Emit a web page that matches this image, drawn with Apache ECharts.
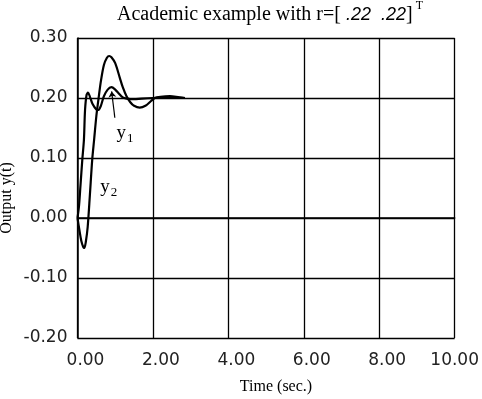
<!DOCTYPE html>
<html><head><meta charset="utf-8">
<script src="https://cdn.jsdelivr.net/npm/echarts@6/dist/echarts.min.js"></script>
<style>html,body{margin:0;padding:0;background:#fff}#c{width:482px;height:399px}</style>
</head><body><div id="c"></div>
<script>
// Data
const y1Time = [0, 0.04, 0.08, 0.127, 0.17, 0.2, 0.24, 0.28, 0.33, 0.4, 0.5, 0.55, 0.62, 0.7, 0.8, 0.9, 1.0, 1.1, 1.2, 1.3, 1.5, 1.7, 2.0, 2.5, 2.85];
const y1Vals = [0, 0.02, 0.055, 0.097, 0.13, 0.18, 0.205, 0.209, 0.202, 0.19, 0.181, 0.18, 0.187, 0.203, 0.214, 0.218, 0.214, 0.207, 0.201, 0.199, 0.198, 0.199, 0.2, 0.201, 0.2];
const y2Time = [0, 0.05, 0.1, 0.15, 0.18, 0.22, 0.27, 0.33, 0.39, 0.44, 0.5, 0.56, 0.62, 0.7, 0.78, 0.84, 0.9, 1.0, 1.12, 1.2, 1.3, 1.4, 1.5, 1.65, 1.8, 1.95, 2.05, 2.2, 2.45, 2.7, 2.85];
const y2Vals = [0, -0.02, -0.038, -0.048, -0.05, -0.04, -0.015, 0.04, 0.097, 0.13, 0.17, 0.2, 0.228, 0.255, 0.267, 0.27, 0.268, 0.258, 0.234, 0.218, 0.203, 0.193, 0.187, 0.184, 0.187, 0.195, 0.2, 0.202, 0.203, 0.201, 0.2];
const xTicks = [0, 2, 4, 6, 8, 10];
const yTicks = [-0.2, -0.1, 0, 0.1, 0.2, 0.3];
const y1LabelPos = [1.26, 0.142];
const y2LabelPos = [0.83, 0.052];
const y1Arrow = [[0.99, 0.167], [0.905, 0.211]];

const chart = echarts.init(document.getElementById('c'));
const zip = (t, v) => t.map((x, i) => [x, v[i]]);
const sub = (n) => ({
  formatter: '{a|y}{b|' + n + '}',
  rich: {
    a: {fontFamily: 'Liberation Serif', fontSize: 19, color: '#000'},
    b: {fontFamily: 'Liberation Serif', fontSize: 13, color: '#000', padding: [12, 0, 0, 1]}
  }
});
const tickFont = {fontFamily: 'DejaVu Sans', fontSize: 17, color: '#222'};
chart.setOption({
  animation: false,
  title: {
    text: '{s|Academic example with r=[ }{i|.22  .22}{s|]}{t|T}',
    left: 270, top: 0, padding: 0, textAlign: 'center',
    textStyle: {
      rich: {
        s: {fontFamily: 'Liberation Serif', fontWeight: 'normal', fontSize: 20, color: '#000'},
        i: {fontFamily: 'Liberation Sans', fontWeight: 'normal', fontStyle: 'italic', fontSize: 18, color: '#000'},
        t: {fontFamily: 'Liberation Serif', fontWeight: 'normal', fontSize: 12, color: '#000', padding: [0, 0, 18, 3]}
      }
    }
  },
  grid: {left: 77.5, right: 27, top: 38, bottom: 61},
  xAxis: {
    type: 'value', min: 0, max: 10, interval: 2,
    axisLine: {show: true, lineStyle: {color: '#000', width: 1.5}},
    axisTick: {show: false},
    splitLine: {show: true, lineStyle: {color: '#000', width: 1.3}},
    axisLabel: {margin: 14,
      formatter: v => xTicks.includes(v) ? (v === 10 ? '{m|' : '{n|') + v.toFixed(2) + '}' : '',
      rich: {n: Object.assign({padding: [0, 0, 0, 16]}, tickFont), m: Object.assign({padding: [0, 0, 0, 0]}, tickFont)}}
  },
  yAxis: {
    type: 'value', min: -0.2, max: 0.3, interval: 0.1,
    axisLine: {show: true, lineStyle: {color: '#000', width: 1.5}},
    axisTick: {show: false},
    splitLine: {show: true, lineStyle: {color: '#000', width: 1.3}},
    axisLabel: Object.assign({margin: 10,
      formatter: v => { const r = Math.round(v * 10) / 10; return yTicks.some(t => Math.abs(t - r) < 1e-9) ? r.toFixed(2).replace('-0.00','0.00') : ''; }}, tickFont)
  },
  graphic: [
    {type: 'text', x: 7, y: 198, rotation: Math.PI / 2, style: {text: 'Output y(t)', fontFamily: 'Liberation Serif', fontSize: 16, fill: '#000', align: 'center', verticalAlign: 'middle'}},
    {type: 'text', x: 276, y: 387, style: {text: 'Time (sec.)', fontFamily: 'Liberation Serif', fontSize: 16, fill: '#000', align: 'center', verticalAlign: 'middle'}}
  ],
  series: [
    {type: 'line', name: 'y1', data: zip(y1Time, y1Vals), symbol: 'none', smooth: 0.3,
      lineStyle: {color: '#000', width: 2.2},
      markPoint: {symbol: 'circle', symbolSize: 0, data: [{coord: y1LabelPos, label: Object.assign({show: true, position: 'inside'}, sub(1))}]},
      markLine: {silent: true, symbol: ['none', 'arrow'], symbolSize: 6, label: {show: false},
        lineStyle: {color: '#000', width: 1.2, type: 'solid'},
        data: [[{coord: y1Arrow[0]}, {coord: y1Arrow[1]}]]}
    },
    {type: 'line', name: 'y2', data: zip(y2Time, y2Vals), symbol: 'none', smooth: 0.3,
      lineStyle: {color: '#000', width: 2.2},
      markPoint: {symbol: 'circle', symbolSize: 0, data: [{coord: y2LabelPos, label: Object.assign({show: true, position: 'inside'}, sub(2))}]}
    }
  ]
});
</script></body></html>
